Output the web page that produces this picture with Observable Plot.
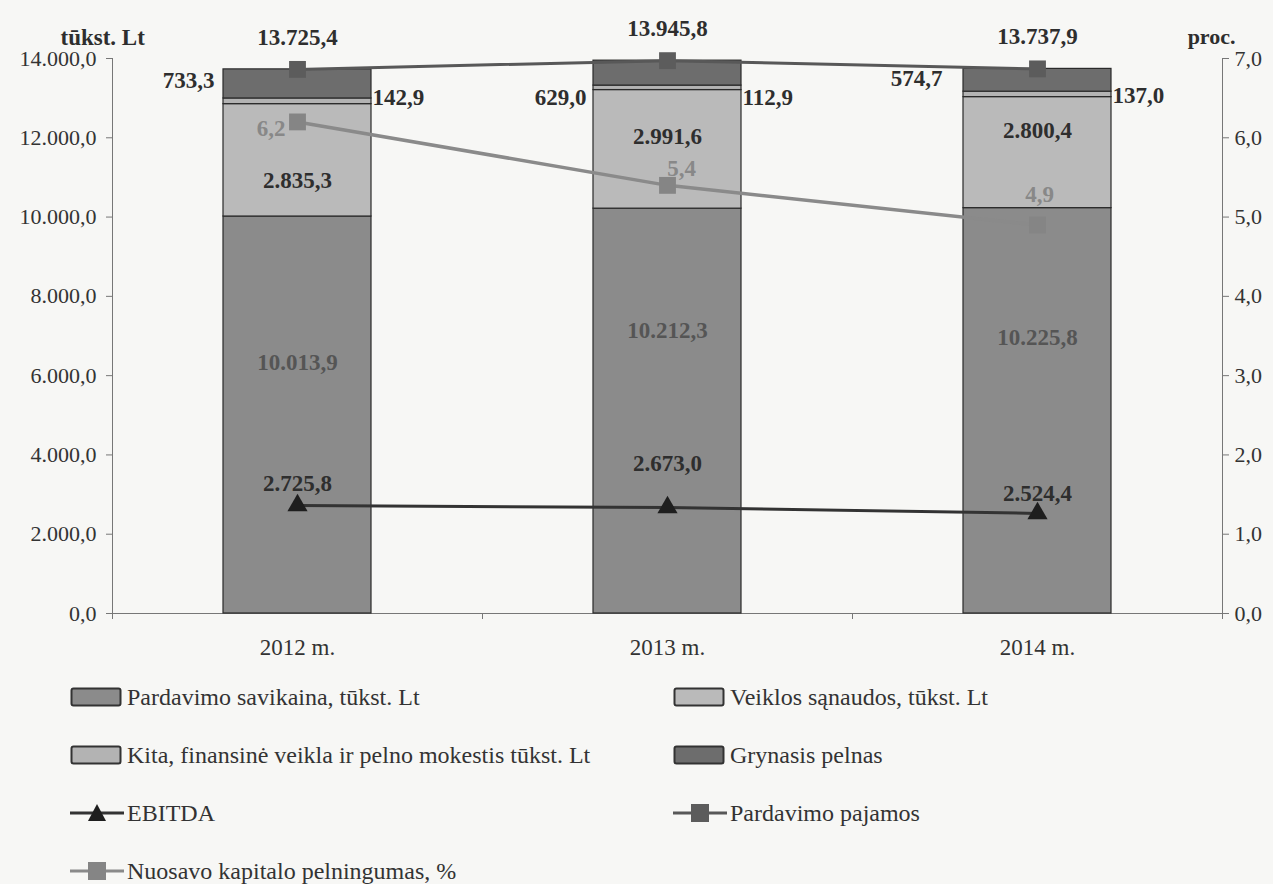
<!DOCTYPE html>
<html>
<head>
<meta charset="utf-8">
<script src="https://cdn.jsdelivr.net/npm/d3@7"></script>
<script src="https://cdn.jsdelivr.net/npm/@observablehq/plot@0.6"></script>
<style>
  html, body { margin: 0; padding: 0; background: #f7f7f5; }
  body { width: 1273px; height: 884px; overflow: hidden; font-family: "Liberation Serif", "Times New Roman", serif; }
  #legend { display: grid; grid-template-columns: 672px 600px; grid-auto-rows: 58px; color: #333; font-size: 24px; }
  .item { display: flex; align-items: center; }
  .item svg { flex: none; margin-right: 3px; }
  .c0 { padding-left: 70px; }
  .c1 { padding-left: 1px; }
</style>
</head>
<body>
<div id="chart"></div>
<div id="legend"></div>
<script>
// ---- data ----
const years = [2012, 2013, 2014];
const yearLabels = ["2012 m.", "2013 m.", "2014 m."];
const seriesNames = [
  "Pardavimo savikaina, tūkst. Lt",
  "Veiklos sąnaudos, tūkst. Lt",
  "Kita, finansinė veikla ir pelno mokestis tūkst. Lt",
  "Grynasis pelnas"
];
const pardavimoSavikaina = [10013.9, 10212.3, 10225.8];
const veiklosSanaudos = [2835.3, 2991.6, 2800.4];
const kita = [142.9, 112.9, 137.0];
const grynasisPelnas = [733.3, 629.0, 574.7];
const pardavimoPajamos = [13725.4, 13945.8, 13737.9];
const ebitda = [2725.8, 2673.0, 2524.4];
const roe = [6.2, 5.4, 4.9];
const leftTicks = [0, 2000, 4000, 6000, 8000, 10000, 12000, 14000];
const rightTicks = [0, 1, 2, 3, 4, 5, 6, 7];

// ---- derived tables ----
const colors = ["#8b8b8b", "#bababa", "#b3b3b3", "#6d6d6d"];
const seriesValues = [pardavimoSavikaina, veiklosSanaudos, kita, grynasisPelnas];
const stacked = [];
years.forEach((yr, i) => {
  let base = 0;
  seriesValues.forEach((vals, s) => {
    stacked.push({year: yr, i, series: seriesNames[s], s, value: vals[i], y1: base, y2: base + vals[i], mid: base + vals[i] / 2});
    base += vals[i];
  });
});
const lines = years.map((yr, i) => ({year: yr, i, total: pardavimoPajamos[i], ebitda: ebitda[i], roe: roe[i]}));
const ratio = 14000 / 7; // right axis (proc.) mapped onto left axis units

const loc = d3.formatLocale({decimal: ",", thousands: ".", grouping: [3], currency: ["", ""]});
const fmt = loc.format(",.1f");

const half = 0.2;
const font = "Liberation Serif";
const txt = {fontFamily: font, fontSize: 23, fontWeight: "bold", fill: "#2e2e2e"};

function perYear(data, opts, offsets) {
  return offsets.map((o, k) => Plot.text(data.filter(d => d.i === k), {...opts, ...o}));
}

const marks = [
  // axes lines
  Plot.ruleX([2011.5], {stroke: "#777"}),
  Plot.ruleX([2014.5], {stroke: "#777"}),
  Plot.ruleY([0], {stroke: "#777"}),
  Plot.axisY({ticks: leftTicks, tickFormat: fmt, tickSize: 6, tickPadding: 10, stroke: "#777", fill: "#333", fontSize: 22, fontFamily: font, label: null}),
  Plot.axisY({anchor: "right", ticks: rightTicks.map(v => v * ratio), tickFormat: v => fmt(v / ratio), tickSize: 6, tickPadding: 6, stroke: "#777", fill: "#333", fontSize: 22, fontFamily: font, label: null}),
  Plot.axisX({ticks: [2011.5, 2012.5, 2013.5, 2014.5], tickFormat: () => "", tickSize: 6, stroke: "#777", label: null}),
  Plot.axisX({ticks: years, tickFormat: d => yearLabels[years.indexOf(d)], tickSize: 0, tickPadding: 25, fill: "#333", fontSize: 23, fontFamily: font, label: null}),
  // stacked bars
  Plot.rect(stacked, {x1: d => d.year - half, x2: d => d.year + half, y1: "y1", y2: "y2", fill: d => colors[d.s], stroke: "#2a2a2a", strokeWidth: 1.2}),
  // Pardavimo pajamos
  Plot.line(lines, {x: "year", y: "total", stroke: "#585858", strokeWidth: 3}),
  Plot.dot(lines, {x: "year", y: "total", symbol: "square", r: 9.5, fill: "#5c5c5c", stroke: "none"}),
  // ROE
  Plot.line(lines, {x: "year", y: d => d.roe * ratio, stroke: "#8a8a8a", strokeWidth: 3.5}),
  Plot.dot(lines, {x: "year", y: d => d.roe * ratio, symbol: "square", r: 9.5, fill: "#858585", stroke: "none"}),
  // EBITDA
  Plot.line(lines, {x: "year", y: "ebitda", stroke: "#333", strokeWidth: 3}),
  Plot.dot(lines, {x: "year", y: "ebitda", symbol: "triangle", r: 7.5, fill: "#1e1e1e", stroke: "none"}),
  // totals labels
  Plot.text(lines, {x: "year", y: "total", text: d => fmt(d.total), dy: -32, ...txt}),
  // Grynasis pelnas labels
  ...perYear(stacked.filter(d => d.s === 3), {x: d => d.year - half, y: "mid", text: d => fmt(d.value), textAnchor: "end", ...txt},
    [{dx: -9, dy: -3}, {dx: -7, dy: 25}, {dx: -21, dy: -2}]),
  // Kita labels
  ...perYear(stacked.filter(d => d.s === 2), {x: d => d.year + half, y: "mid", text: d => fmt(d.value), textAnchor: "start", ...txt},
    [{dx: 1, dy: -4}, {dx: 1, dy: 10}, {dx: 1, dy: 1}]),
  // Veiklos sąnaudos labels
  ...perYear(stacked.filter(d => d.s === 1), {x: "year", y: "mid", text: d => fmt(d.value), ...txt},
    [{dy: 20}, {dy: -13}, {dy: -22}]),
  // Pardavimo savikaina labels
  ...perYear(stacked.filter(d => d.s === 0), {x: "year", y: "mid", text: d => fmt(d.value), ...txt, fill: "#555"},
    [{dy: -52}, {dy: -80}, {dy: -73}]),
  // EBITDA labels
  ...perYear(lines, {x: "year", y: "ebitda", text: d => fmt(d.ebitda), ...txt},
    [{dy: -22}, {dy: -44}, {dy: -20}]),
  // ROE labels
  ...perYear(lines, {x: "year", y: d => d.roe * ratio, text: d => loc.format(".1f")(d.roe), ...txt, fill: "#888"},
    [{dx: -12, dy: 7, textAnchor: "end"}, {dx: 14, dy: -17}, {dx: 2, dy: -30}]),
  // axis titles
  Plot.text(["tūkst. Lt"], {frameAnchor: "top-left", dx: -52, dy: -30, textAnchor: "start", ...txt, fontSize: 23}),
  Plot.text(["proc."], {frameAnchor: "top-right", dx: 13, dy: -30, textAnchor: "end", ...txt, fontSize: 22})
];

const chart = Plot.plot({
  width: 1273,
  height: 668,
  marginLeft: 112,
  marginRight: 51,
  marginTop: 58,
  marginBottom: 55,
  style: {background: "transparent", fontFamily: font, fontSize: "22px", color: "#333", overflow: "visible"},
  x: {type: "linear", domain: [2011.5, 2014.5], axis: null},
  y: {domain: [0, 14000], axis: null},
  marks
});
document.getElementById("chart").appendChild(chart);

// ---- legend ----
const legendItems = [
  {name: seriesNames[0], kind: "rect", fill: colors[0]},
  {name: seriesNames[1], kind: "rect", fill: colors[1]},
  {name: seriesNames[2], kind: "rect", fill: colors[2]},
  {name: seriesNames[3], kind: "rect", fill: colors[3]},
  {name: "EBITDA", kind: "tri", stroke: "#333", fill: "#1e1e1e"},
  {name: "Pardavimo pajamos", kind: "sq", stroke: "#585858", fill: "#5c5c5c"},
  {name: "Nuosavo kapitalo pelningumas, %", kind: "sq", stroke: "#8a8a8a", fill: "#858585"}
];
const legend = d3.select("#legend");
legendItems.forEach((it, k) => {
  const div = legend.append("div").attr("class", "item " + (k % 2 === 0 ? "c0" : "c1"));
  const s = div.append("svg").attr("width", 54).attr("height", 24);
  if (it.kind === "rect") {
    s.append("rect").attr("x", 1.5).attr("y", 3.5).attr("width", 49).attr("height", 17).attr("rx", 2)
      .attr("fill", it.fill).attr("stroke", "#333").attr("stroke-width", 2);
  } else {
    s.append("line").attr("x1", 0).attr("x2", 54).attr("y1", 12).attr("y2", 12).attr("stroke", it.stroke).attr("stroke-width", 3);
    if (it.kind === "sq") s.append("rect").attr("x", 18).attr("y", 3).attr("width", 18).attr("height", 18).attr("fill", it.fill);
    else s.append("path").attr("d", "M27,3L36,20L18,20Z").attr("fill", it.fill);
  }
  div.append("span").text(it.name);
});
</script>
</body>
</html>
